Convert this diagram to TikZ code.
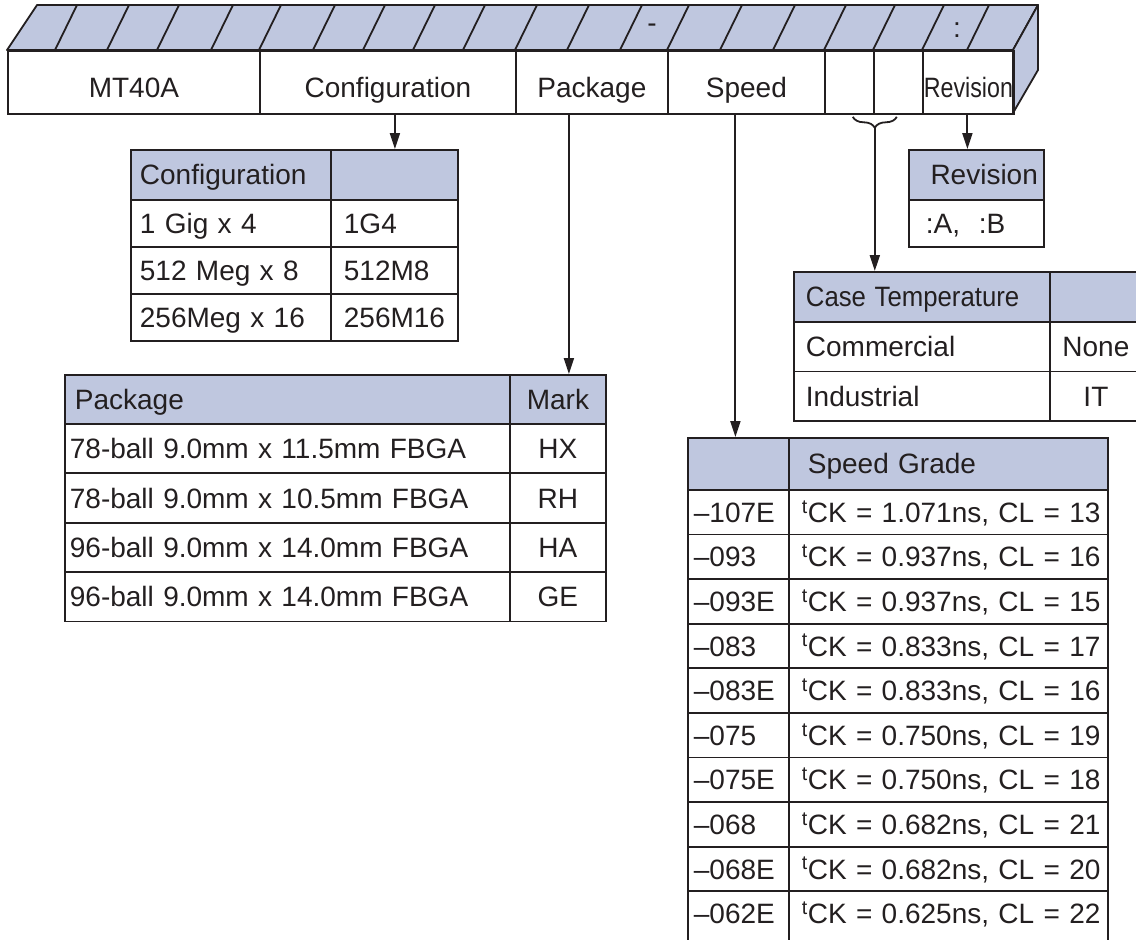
\documentclass[tikz,border=0pt]{standalone}
\usepackage{fontspec}
\setmainfont{Liberation Sans}
\usepackage{graphicx}
\usetikzlibrary{arrows.meta}
\usetikzlibrary{decorations.pathreplacing}
\definecolor{headc}{RGB}{191,199,223}
\definecolor{linec}{RGB}{35,31,32}
\newcommand{\cellfont}{\fontsize{28pt}{32pt}\selectfont}

\begin{document}
\begin{tikzpicture}[x=1pt,y=-1pt,
    cell/.style={draw=linec,line width=1.8pt,anchor=north west,inner ysep=0pt,
        font=\cellfont,text=linec,text height=20pt,text depth=0pt},
    head/.style={fill=headc},
    lcell/.style 2 args={cell,inner xsep=#1,text width=#2,align=left},
    ccell/.style={cell,inner xsep=0pt,align=center},
    barcell/.style={cell,inner xsep=0pt,minimum height=63pt,text height=31pt},
    face/.style={draw=linec,line width=1.8pt,fill=headc,line join=round},
    arr/.style={draw=linec,line width=2pt,-{Triangle[length=16pt,width=10pt]}}]
    \useasboundingbox (0,0) rectangle (1136,940);
    \clip (0,0) rectangle (1136,940);

    % part number bar
    \draw[face] (7,50) -- (37,5) -- (1038,5) -- (1013,50) -- cycle;
    \draw[face] (1013,50) -- (1038,5) -- (1038,70) -- (1013,113) -- cycle;
    \foreach \x in {55,107,157,211,259,313,363,413,463,515,567,620,667,720,773,824,873,922,967}
        \draw[linec,line width=1.8pt] (\x,50) -- ++(22,-45);
    \node[font=\cellfont,text=linec] (dash) at (652,28) {-};
    \node[font=\cellfont,text=linec] (colon) at (957,30) {:};

    \begin{scope}[every node/.style={barcell}]
        \node[minimum width=252pt] (mt) at (7,50) {MT40A};
        \node[minimum width=256pt] (cfg) at (259,50) {Configuration};
        \node[minimum width=152pt] (pkg) at (515,50) {Package};
        \node[minimum width=157pt] (spd) at (667,50) {Speed};
        \node[minimum width=49pt] (tempa) at (824,50) {};
        \node[minimum width=49pt] (tempb) at (873,50) {};
        \node[minimum width=91pt] (rev) at (922,50) {\scalebox{0.83}[1]{Revision}};
    \end{scope}

    % configuration
    \node[lcell={9pt}{182pt},head,minimum height=50pt] (cfgh) at (130,149) {Configuration};
    \node[cell,head,minimum width=127pt,minimum height=50pt] (cfgk) at (330,149) {};
    \foreach \n/\k [count=\i from 0] in {1 Gig x 4/1G4,512 Meg x 8/512M8,256Meg x 16/256M16} {
        \node[lcell={9pt}{182pt},minimum height=47pt] (cfga\i) at (130,{199+47*\i}) {\n};
        \node[lcell={13pt}{101pt},minimum height=47pt] (cfgb\i) at (330,{199+47*\i}) {\k};
    }

    % package
    \node[lcell={10pt}{425pt},head,minimum height=49pt] (pkgh) at (64,374) {Package};
    \node[ccell,head,minimum width=96pt,minimum height=49pt] (pkgk) at (509,374) {Mark};
    \foreach \n/\k [count=\i from 0] in {78-ball 9.0mm x 11.5mm FBGA/HX,78-ball 9.0mm x 10.5mm FBGA/RH,
            96-ball 9.0mm x 14.0mm FBGA/HA,96-ball 9.0mm x 14.0mm FBGA/GE} {
        \node[lcell={5pt}{435pt},minimum height=49.4pt] (pkga\i) at (64,{423+49.4*\i}) {\n};
        \node[ccell,minimum width=96pt,minimum height=49.4pt] (pkgb\i) at (509,{423+49.4*\i}) {\k};
    }

    % speed grade
    \node[cell,head,minimum width=101pt,minimum height=52pt] (spdh) at (687,437) {};
    \node[lcell={19pt}{281pt},head,minimum height=52pt] (spdk) at (788,437) {Speed Grade};
    \foreach \g/\tck/\cl [count=\i from 0] in {107E/1.071/13,093/0.937/16,093E/0.937/15,083/0.833/17,
            083E/0.833/16,075/0.750/19,075E/0.750/18,068/0.682/21,068E/0.682/20} {
        \node[lcell={6pt}{89pt},minimum height=44.6pt] (spda\i) at (687,{489+44.6*\i}) {\textendash\g};
        \node[lcell={13pt}{293pt},minimum height=44.6pt] (spdb\i) at (788,{489+44.6*\i})
            {\mbox{\textsuperscript{t}CK = \tck{}ns, CL = \cl}};
    }
    \node[lcell={6pt}{89pt},minimum height=60pt,text depth=15pt] (spda9) at (687,890.4) {\textendash062E};
    \node[lcell={13pt}{293pt},minimum height=60pt,text depth=15pt] (spdb9) at (788,890.4)
        {\mbox{\textsuperscript{t}CK = 0.625ns, CL = 22}};

    % case temperature
    \node[lcell={12pt}{232pt},head,minimum height=50pt] (cth) at (793,271) {\scalebox{0.92}[1]{Case Temperature}};
    \node[cell,head,minimum width=92pt,minimum height=50pt] (ctk) at (1049,271) {};
    \foreach \n/\k [count=\i from 0] in {Commercial/None,Industrial/IT} {
        \node[lcell={12pt}{232pt},minimum height=49.5pt] (cta\i) at (793,{321+49.5*\i}) {\n};
        \node[ccell,minimum width=92pt,minimum height=49.5pt] (ctb\i) at (1049,{321+49.5*\i}) {\k};
    }

    % revision
    \node[cell,head,inner xsep=6pt,text width=123pt,align=right,minimum height=50pt] (revh) at (908,149) {Revision};
    \node[lcell={17pt}{101pt},minimum height=47pt] (reva) at (908,199) {:A,~~:B};

    % arrows
    \coordinate (cfgout) at ([xshift=7pt]cfg.south);
    \coordinate (pkgout) at ([xshift=-23pt]pkg.south);
    \coordinate (spdout) at ([xshift=-11pt]spd.south);
    \coordinate (revout) at ([xshift=-1pt]rev.south);
    \coordinate (bracetip) at ([yshift=-13pt]tempa.south east);
    \draw[arr] (cfgout) -- (cfgout |- cfgh.north);
    \draw[arr] (pkgout) -- (pkgout |- pkgh.north);
    \draw[arr] (spdout) -- (spdout |- spdh.north);
    \draw[arr] (revout) -- (revout |- revh.north);
    \draw[linec,line width=1.8pt,decorate,decoration={brace,mirror,amplitude=11pt}]
        ([xshift=-22pt,yshift=-2pt]tempa.south east) -- ([xshift=22pt,yshift=-2pt]tempa.south east);
    \draw[arr] (bracetip) -- (bracetip |- cth.north);
\end{tikzpicture}
\end{document}
